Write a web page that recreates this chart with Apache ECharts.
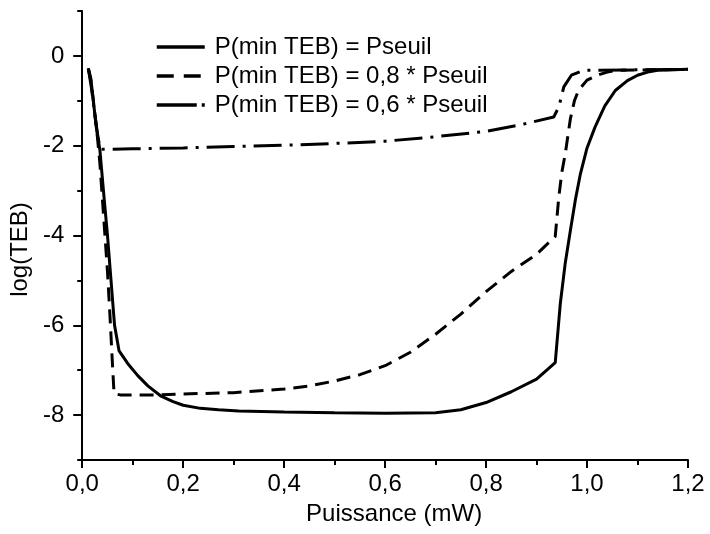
<!DOCTYPE html>
<html>
<head>
<meta charset="utf-8">
<script src="https://cdn.jsdelivr.net/npm/echarts@6/dist/echarts.min.js"></script>
<style>
  html, body { margin: 0; padding: 0; background: #fff; }
  #main { width: 710px; height: 534px; }
</style>
</head>
<body>
<div id="main"></div>
<script>
// courbes : [puissance (mW), log(TEB)]
var pSeuil = [
  [0.012, -0.28], [0.017, -0.5], [0.022, -1.0], [0.028, -1.6], [0.035, -2.1],
  [0.042, -3.0], [0.05, -4.0], [0.057, -5.0], [0.064, -6.0], [0.073, -6.57],
  [0.09, -6.85], [0.11, -7.12], [0.13, -7.35], [0.155, -7.57], [0.18, -7.7],
  [0.2, -7.78], [0.234, -7.85], [0.27, -7.88], [0.31, -7.91], [0.4, -7.93],
  [0.5, -7.95], [0.6, -7.96], [0.7, -7.95], [0.75, -7.88], [0.8, -7.72],
  [0.85, -7.48], [0.9, -7.2], [0.937, -6.83], [0.947, -5.52], [0.957, -4.6],
  [0.967, -3.89], [0.977, -3.2], [0.987, -2.62], [1.0, -2.05], [1.016, -1.58],
  [1.035, -1.12], [1.056, -0.77], [1.08, -0.55], [1.1, -0.43], [1.12, -0.36],
  [1.14, -0.32], [1.2, -0.3]
];
var p08Seuil = [
  [0.012, -0.28], [0.018, -0.6], [0.024, -1.2], [0.03, -1.8], [0.035, -2.4],
  [0.04, -3.2], [0.045, -4.0], [0.05, -4.8], [0.055, -5.8], [0.06, -6.9],
  [0.063, -7.52], [0.075, -7.55], [0.1, -7.55], [0.15, -7.55], [0.2, -7.53],
  [0.3, -7.5], [0.4, -7.42], [0.45, -7.35], [0.5, -7.24], [0.55, -7.1],
  [0.6, -6.9], [0.65, -6.6], [0.7, -6.2], [0.75, -5.75], [0.8, -5.25],
  [0.85, -4.8], [0.9, -4.42], [0.937, -4.02], [0.944, -3.15], [0.95, -2.6],
  [0.957, -2.17], [0.967, -1.4], [0.975, -1.0], [0.983, -0.77], [1.0, -0.54],
  [1.02, -0.43], [1.04, -0.36], [1.06, -0.32], [1.2, -0.3]
];
var p06Seuil = [
  [0.012, -0.28], [0.018, -0.7], [0.025, -1.3], [0.031, -1.8], [0.036, -2.08],
  [0.05, -2.08], [0.1, -2.07], [0.2, -2.05], [0.3, -2.02], [0.4, -1.99],
  [0.5, -1.95], [0.6, -1.9], [0.7, -1.8], [0.8, -1.68], [0.87, -1.53],
  [0.934, -1.36], [0.944, -1.14], [0.954, -0.69], [0.969, -0.43], [0.993, -0.32],
  [1.2, -0.3]
];
var noms = ['P(min TEB) = Pseuil', 'P(min TEB) = 0,8 * Pseuil', 'P(min TEB) = 0,6 * Pseuil'];
var yMajor = [-8, -6, -4, -2, 0];
var yMinor = [-9, -7, -5, -3, -1, 1];

var chartDom = document.getElementById('main');
var myChart = echarts.init(chartDom, null, { renderer: 'canvas' });
var police = 'Liberation Sans, Arial, sans-serif';
var option;

option = {
    animation: false,
    backgroundColor: '#fff',
    textStyle: { fontFamily: police },
    grid: { left: 81, right: 22, top: 11, bottom: 74 },
    legend: {
        orient: 'vertical',
        left: 150,
        top: 30,
        itemWidth: 48,
        itemHeight: 14,
        itemGap: 5,
        itemStyle: { opacity: 0 },
        textStyle: { fontSize: 24, color: '#000', fontFamily: police, padding: [0, 0, 0, 5] },
        data: [
            { name: noms[0], lineStyle: { type: 'solid', width: 3.5 } },
            { name: noms[1], lineStyle: { type: [17, 10], width: 3.5 } },
            { name: noms[2], lineStyle: { type: [40, 5, 3, 5], width: 3.5 } }
        ]
    },
    xAxis: {
        type: 'value',
        min: 0,
        max: 1.2,
        interval: 0.2,
        name: 'Puissance (mW)',
        nameLocation: 'middle',
        nameGap: 42,
        nameTextStyle: { fontSize: 24, color: '#000', padding: [0, 0, 0, 18] },
        axisLine: { onZero: false, lineStyle: { color: '#000', width: 2 } },
        axisTick: { length: 8, lineStyle: { color: '#000', width: 2 } },
        minorTick: { show: true, splitNumber: 2, length: 5, lineStyle: { color: '#000', width: 2 } },
        splitLine: { show: false },
        axisLabel: {
            fontSize: 24, color: '#000', margin: 12,
            formatter: function (v) { return v.toFixed(1).replace('.', ','); }
        }
    },
    yAxis: [
        {
            type: 'value',
            min: -9,
            max: 1,
            name: 'log(TEB)',
            nameLocation: 'middle',
            nameGap: 31,
            nameTextStyle: { fontSize: 24, color: '#000', padding: [0, 28, 0, 0] },
            axisLine: { show: true, onZero: false, lineStyle: { color: '#000', width: 2 } },
            axisTick: { show: true, length: 9, customValues: yMajor, lineStyle: { color: '#000', width: 2 } },
            splitLine: { show: false },
            axisLabel: { fontSize: 24, color: '#000', margin: 18, customValues: yMajor }
        },
        {
            type: 'value',
            min: -9,
            max: 1,
            position: 'left',
            offset: 0,
            axisLine: { show: false },
            axisTick: { show: true, length: 5, customValues: yMinor, lineStyle: { color: '#000', width: 2 } },
            splitLine: { show: false },
            axisLabel: { show: false }
        }
    ],
    series: [
        {
            name: noms[0], type: 'line', data: pSeuil, showSymbol: false, symbol: 'none',
            lineStyle: { color: '#000', width: 3, type: 'solid' }, itemStyle: { color: '#000' }
        },
        {
            name: noms[1], type: 'line', data: p08Seuil, showSymbol: false, symbol: 'none',
            lineStyle: { color: '#000', width: 3, type: [14, 8] }, itemStyle: { color: '#000' }
        },
        {
            name: noms[2], type: 'line', data: p06Seuil, showSymbol: false, symbol: 'none',
            lineStyle: { color: '#000', width: 3, type: [28, 8, 3, 8] }, itemStyle: { color: '#000' }
        }
    ]
};

option && myChart.setOption(option);
</script>
</body>
</html>
